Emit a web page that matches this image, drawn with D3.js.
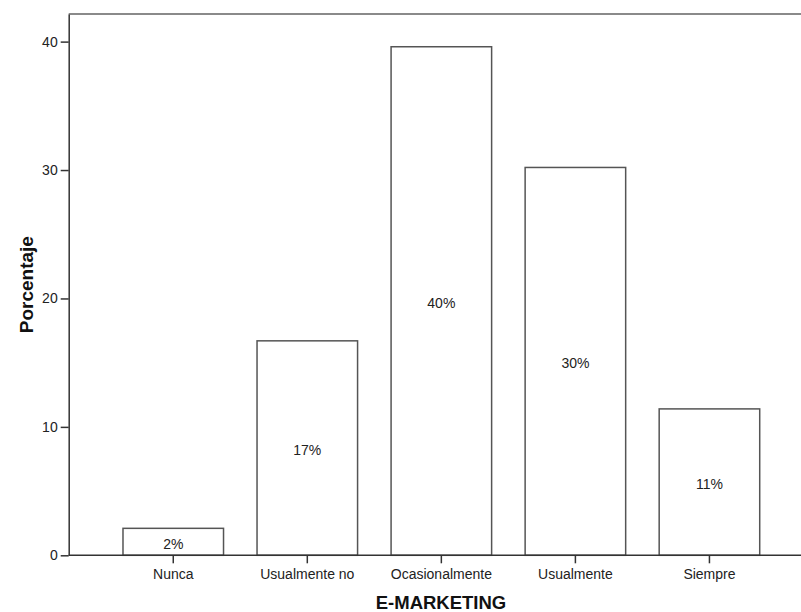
<!DOCTYPE html>
<html>
<head>
<meta charset="utf-8">
<script src="https://cdn.jsdelivr.net/npm/d3@7"></script>
<style>
  html, body { margin: 0; padding: 0; background: #fff; }
  svg { display: block; font-family: "Liberation Sans", Arial, sans-serif; }
</style>
</head>
<body>
<svg id="chart" width="801" height="612"></svg>
<script>
const categories = ["Nunca", "Usualmente no", "Ocasionalmente", "Usualmente", "Siempre"];
const percentages = [2.1, 16.7, 39.6, 30.2, 11.4];
const yTicks = [0, 10, 20, 30, 40];
const xTitle = "E-MARKETING";
const yTitle = "Porcentaje";

(function () {
const svg = d3.select("#chart");
const pLeft = 68.7, pRight = 814, pTop = 14, pBottom = 555.3;

const x = d3.scaleBand()
  .domain(categories)
  .range([pLeft, pRight])
  .paddingInner(0.25)
  .paddingOuter(0.405);

const y = d3.scaleLinear()
  .domain([0, 42.15])
  .range([pBottom, pTop]);

// top frame line
svg.append("line")
  .attr("x1", pLeft).attr("x2", 801)
  .attr("y1", pTop).attr("y2", pTop)
  .attr("stroke", "#8a8a8a").attr("stroke-width", 2);

// bars
const data = categories.map((c, i) => ({ c, v: percentages[i] }));
svg.append("g").selectAll("rect").data(data).join("rect")
  .attr("x", d => x(d.c))
  .attr("y", d => y(d.v))
  .attr("width", x.bandwidth())
  .attr("height", d => y(0) - y(d.v))
  .attr("fill", "#fff")
  .attr("stroke", "#555")
  .attr("stroke-width", 1.5);

// value labels
svg.append("g").selectAll("text").data(data).join("text")
  .attr("x", d => x(d.c) + x.bandwidth() / 2)
  .attr("y", d => (y(d.v) + y(0)) / 2)
  .attr("dy", "0.5em")
  .attr("text-anchor", "middle")
  .attr("font-size", 14)
  .attr("fill", "#222")
  .text(d => Math.round(d.v) + "%");

// x axis
const xAxis = svg.append("g")
  .attr("transform", `translate(0,${pBottom})`)
  .call(d3.axisBottom(x).tickSize(8).tickPadding(6).tickSizeOuter(0));
xAxis.select(".domain").attr("stroke", "#333").attr("stroke-width", 1.5)
  .attr("d", `M${pLeft},0H801`);
xAxis.selectAll(".tick line").attr("stroke", "#333").attr("stroke-width", 1.5);
xAxis.selectAll(".tick text").attr("font-size", 14).attr("fill", "#222")
  .attr("font-family", "'Liberation Sans', Arial, sans-serif");

// y axis
const yAxis = svg.append("g")
  .attr("transform", `translate(${pLeft},0)`)
  .call(d3.axisLeft(y).tickValues(yTicks).tickSize(8).tickPadding(3).tickSizeOuter(0));
yAxis.select(".domain").attr("stroke", "#333").attr("stroke-width", 1.5);
yAxis.selectAll(".tick line").attr("stroke", "#333").attr("stroke-width", 1.5);
yAxis.selectAll(".tick text").attr("font-size", 14).attr("fill", "#222")
  .attr("font-family", "'Liberation Sans', Arial, sans-serif");

// titles
svg.append("text")
  .attr("x", 441).attr("y", 609)
  .attr("text-anchor", "middle")
  .attr("font-size", 18.5).attr("font-weight", "bold").attr("fill", "#111")
  .text(xTitle);

svg.append("text")
  .attr("transform", `translate(33,${(pTop + pBottom) / 2}) rotate(-90)`)
  .attr("text-anchor", "middle")
  .attr("font-size", 19).attr("font-weight", "bold").attr("fill", "#111")
  .text(yTitle);
})();
</script>
</body>
</html>
